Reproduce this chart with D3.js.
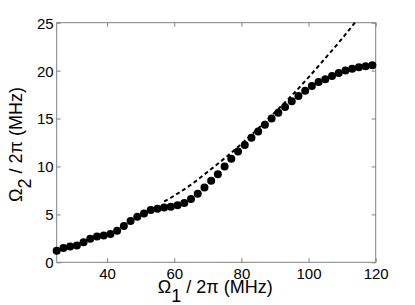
<!DOCTYPE html>
<html>
<head>
<meta charset="utf-8">
<script src="https://cdn.jsdelivr.net/npm/d3@7"></script>
<style>
  html, body { margin: 0; padding: 0; background: #fff; }
  svg { display: block; }
  text { font-family: "Liberation Sans", Arial, Helvetica, sans-serif; fill: #000; }
</style>
</head>
<body>
<svg id="chart" width="415" height="305"></svg>
<script>
// Measured points (Ω1/2π in MHz, Ω2/2π in MHz)
const omega1 = [25,27,29,31,33,35,37,39,41,43,45,47,49,51,53,55,57,59,61,63,65,67,69,71,73,75,77,79,81,83,85,87,89,91,93,95,97,99,101,103,105,107,109,111,113,115,117,119];
const omega2 = [1.2,1.5,1.65,1.75,2.1,2.45,2.7,2.8,2.95,3.3,3.8,4.3,4.75,5.1,5.45,5.6,5.72,5.8,5.95,6.2,6.6,7.15,7.8,8.5,9.2,10.0,10.8,11.55,12.25,13.0,13.65,14.35,15.0,15.6,16.2,16.8,17.35,17.9,18.4,18.8,19.1,19.45,19.75,20.0,20.2,20.35,20.45,20.55];
// Dashed theory curve
const theoryX = [57,60,65,70,75,80,85,90,95,100,105,110,113.8];
const theoryY = [6.35,6.95,8.1,9.45,10.85,12.35,13.95,15.65,17.4,19.3,21.3,23.35,25];
// Axis ticks
const xTicks = [40,60,80,100,120];
const yTicks = [0,5,10,15,20,25];

const svg = d3.select("#chart");
const mLeft = 56.7, mRight = 375.7, mTop = 22.7, mBottom = 262.3;
const x = d3.scaleLinear().domain([25,120]).range([mLeft,mRight]);
const y = d3.scaleLinear().domain([0,25]).range([mBottom,mTop]);
const axisColor = "#808080";

// Box
svg.append("rect").attr("x",mLeft).attr("y",mTop).attr("width",mRight-mLeft).attr("height",mBottom-mTop)
  .attr("fill","none").attr("stroke",axisColor).attr("stroke-width",1);

// Axes with inward ticks
const tickLen = 4;
const gx = svg.append("g").attr("transform",`translate(0,${mBottom})`)
  .call(d3.axisBottom(x).tickValues(xTicks).tickSizeInner(-tickLen).tickSizeOuter(0).tickPadding(6));
const gxTop = svg.append("g").attr("transform",`translate(0,${mTop})`)
  .call(d3.axisTop(x).tickValues(xTicks).tickSizeInner(-tickLen).tickSizeOuter(0).tickFormat(""));
const gy = svg.append("g").attr("transform",`translate(${mLeft},0)`)
  .call(d3.axisLeft(y).tickValues(yTicks).tickSizeInner(-tickLen).tickSizeOuter(0).tickPadding(3));
const gyR = svg.append("g").attr("transform",`translate(${mRight},0)`)
  .call(d3.axisRight(y).tickValues(yTicks).tickSizeInner(-tickLen).tickSizeOuter(0).tickFormat(""));
[gx,gxTop,gy,gyR].forEach(g => {
  g.select(".domain").remove();
  g.selectAll(".tick line").attr("stroke",axisColor);
  g.selectAll(".tick text").attr("font-size",15).attr("fill","#000")
    .style("font-family","'Liberation Sans', Arial, sans-serif");
});
gx.selectAll(".tick text").attr("dy","0.72em");
gy.selectAll(".tick text").attr("dy","0.36em");

// Dashed theory curve
const line = d3.line().x(d => x(d[0])).y(d => y(d[1])).curve(d3.curveMonotoneX);
svg.append("path").datum(theoryX.map((v,i)=>[v,theoryY[i]]))
  .attr("d",line).attr("fill","none").attr("stroke","#000").attr("stroke-width",2)
  .attr("stroke-dasharray","4,3");

// Data dots
svg.append("g").selectAll("circle").data(omega1.map((v,i)=>[v,omega2[i]])).join("circle")
  .attr("cx",d=>x(d[0])).attr("cy",d=>y(d[1])).attr("r",4).attr("fill","#000");

// X axis title
const xt = svg.append("text").attr("x",(mLeft+mRight)/2 - 1).attr("y",293).attr("text-anchor","middle").attr("font-size",18);
xt.append("tspan").text("Ω");
xt.append("tspan").attr("dy",9).text("1");
xt.append("tspan").attr("dy",-9).text(" / 2π (MHz)");

// Y axis title
const yt = svg.append("text").attr("transform",`translate(22,${(mTop+mBottom)/2 + 2}) rotate(-90)`)
  .attr("text-anchor","middle").attr("font-size",18);
yt.append("tspan").text("Ω");
yt.append("tspan").attr("dy",9).text("2");
yt.append("tspan").attr("dy",-9).text(" / 2π (MHz)");
</script>
</body>
</html>
